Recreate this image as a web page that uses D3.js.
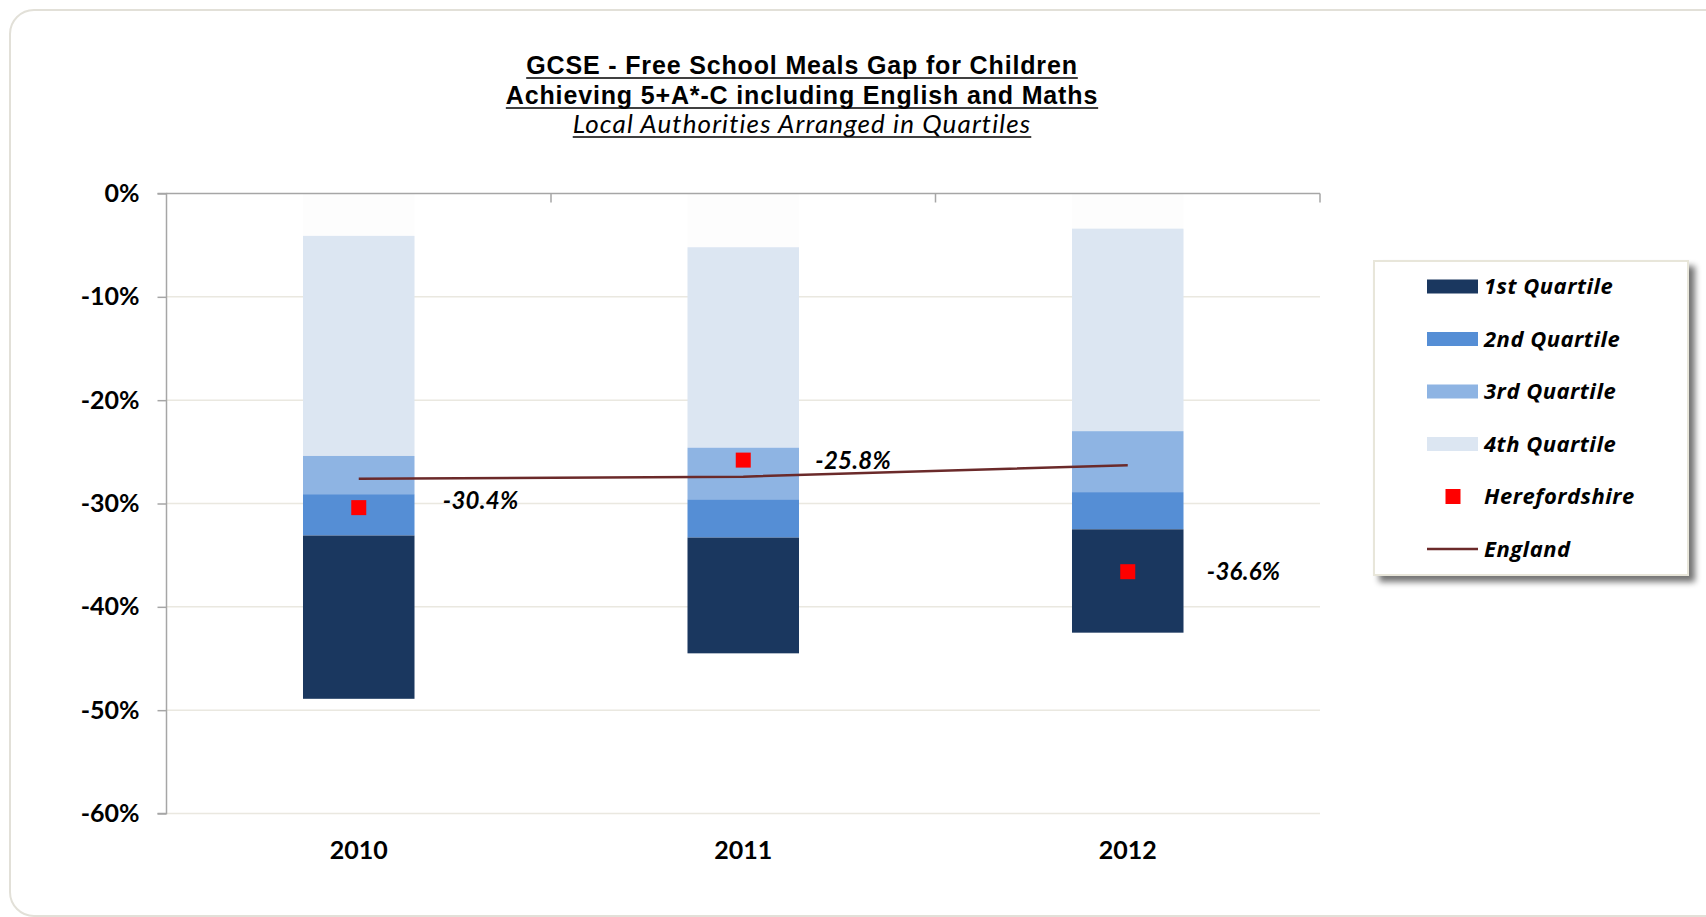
<!DOCTYPE html>
<html>
<head>
<meta charset="utf-8">
<script src="https://cdn.jsdelivr.net/npm/d3@7"></script>
<style>
  html, body { margin: 0; padding: 0; background: #ffffff; }
  svg { display: block; }
</style>
</head>
<body>
<svg id="chart" width="1706" height="917"></svg>
<script>
// ---------------- DATA ----------------
const years = ["2010", "2011", "2012"];
// stacked segment sizes (from 0 downward), in %
const blankSeg    = [-4.1, -5.2, -3.4];
const quartile4   = [-21.3, -19.4, -19.6];
const quartile3   = [-3.7, -5.0, -5.9];
const quartile2   = [-4.0, -3.7, -3.6];
const quartile1   = [-15.8, -11.2, -10.0];
const herefordshire = [-30.4, -25.8, -36.6];
const england       = [-27.6, -27.4, -26.3];
const yTicks = [0, -10, -20, -30, -40, -50, -60];
const legendLabels = ["1st Quartile", "2nd Quartile", "3rd Quartile", "4th Quartile", "Herefordshire", "England"];
const titleLines = ["GCSE - Free School Meals Gap for Children",
                    "Achieving 5+A*-C including English and Maths",
                    "Local Authorities Arranged in Quartiles"];

// ---------------- STYLE ----------------
const colors = {
  blank: "#fdfdfd",
  q4: "#dce6f2",
  q3: "#8eb4e3",
  q2: "#558ed5",
  q1: "#1a375f",
  here: "#ff0000",
  eng: "#6b2a2a"
};
const sansC = "Lato, 'Open Sans', sans-serif";
const sansO = "'Open Sans', Lato, sans-serif";
const sansA = "'Liberation Sans', Arial, sans-serif";

const svg = d3.select("#chart");

// drop shadow for legend
const defs = svg.append("defs");
const f = defs.append("filter").attr("id", "shadow").attr("x", "-10%").attr("y", "-10%").attr("width", "130%").attr("height", "130%");
f.append("feGaussianBlur").attr("in", "SourceAlpha").attr("stdDeviation", 3).attr("result", "b");
f.append("feOffset").attr("in", "b").attr("dx", 6).attr("dy", 6).attr("result", "o");
f.append("feComponentTransfer").attr("in", "o").attr("result", "o2")
  .append("feFuncA").attr("type", "linear").attr("slope", 0.55);
const fm = f.append("feMerge");
fm.append("feMergeNode").attr("in", "o2");
fm.append("feMergeNode").attr("in", "SourceGraphic");

// outer chart frame
svg.append("rect")
  .attr("x", 10).attr("y", 10).attr("width", 1720).attr("height", 906)
  .attr("rx", 24).attr("ry", 24)
  .attr("fill", "#ffffff").attr("stroke", "#e2e0d8").attr("stroke-width", 2);

// ---------------- TITLE ----------------
const titleSpec = [
  { y: 74, font: sansA, weight: "bold", style: "normal", size: 25, ls: 0.85 },
  { y: 104, font: sansA, weight: "bold", style: "normal", size: 25, ls: 0.85 },
  { y: 133, font: sansC, weight: "normal", style: "italic", size: 26, ls: 1.1 }
];
titleLines.forEach((t, i) => {
  const s = titleSpec[i];
  const tx = svg.append("text")
    .attr("x", 802).attr("y", s.y)
    .attr("text-anchor", "middle")
    .attr("font-family", s.font).attr("font-weight", s.weight)
    .attr("font-style", s.style).attr("font-size", s.size)
    .attr("letter-spacing", s.ls)
    .attr("fill", "#000").text(t);
  const bb = tx.node().getBBox();
  svg.append("line")
    .attr("x1", bb.x).attr("x2", bb.x + bb.width)
    .attr("y1", s.y + 4).attr("y2", s.y + 4)
    .attr("stroke", "#000").attr("stroke-width", 1.7);
});

// ---------------- SCALES ----------------
const plot = { left: 166.5, right: 1320, top: 193.5, bottom: 813.5 };
const y = d3.scaleLinear().domain([0, -60]).range([plot.top, plot.bottom]);
const x = d3.scaleBand().domain(years).range([plot.left, plot.right])
  .paddingInner(0.71).paddingOuter(0.355);
const xc = d => x(d) + x.bandwidth() / 2;

// gridlines
svg.append("g").selectAll("line").data(yTicks.filter(v => v !== 0)).join("line")
  .attr("x1", plot.left).attr("x2", plot.right)
  .attr("y1", d => y(d)).attr("y2", d => y(d))
  .attr("stroke", "#eae8e0").attr("stroke-width", 1.5);

// ---------------- BARS ----------------
const keys = ["blank", "q4", "q3", "q2", "q1"];
const table = years.map((yr, i) => ({
  year: yr, blank: blankSeg[i], q4: quartile4[i], q3: quartile3[i], q2: quartile2[i], q1: quartile1[i]
}));
const stacked = d3.stack().keys(keys).offset(d3.stackOffsetDiverging)(table);
svg.append("g").selectAll("g").data(stacked).join("g")
  .attr("fill", d => colors[d.key])
  .selectAll("rect").data(d => d).join("rect")
  .attr("x", d => x(d.data.year))
  .attr("width", x.bandwidth())
  .attr("y", d => Math.min(y(d[0]), y(d[1])))
  .attr("height", d => Math.abs(y(d[1]) - y(d[0])));

// ---------------- AXES ----------------
const yAxis = d3.axisLeft(y).tickValues(yTicks).tickSize(9).tickPadding(18)
  .tickFormat(d => d + "%");
const gy = svg.append("g").attr("transform", `translate(${plot.left},0)`).call(yAxis);
gy.select(".domain").attr("stroke", "#a6a6a6").attr("stroke-width", 1.5).attr("d", `M-9,${plot.top}H0V${plot.bottom}H-9`);
gy.selectAll(".tick line").attr("stroke", "#a6a6a6").attr("stroke-width", 1.5);
gy.selectAll(".tick text").attr("font-family", sansC).attr("font-weight", "bold")
  .attr("font-size", 25).attr("fill", "#000");

// top category axis at 0%
const gx = svg.append("g");
gx.append("line").attr("x1", plot.left).attr("x2", plot.right)
  .attr("y1", y(0)).attr("y2", y(0)).attr("stroke", "#a6a6a6").attr("stroke-width", 1.5);
const boundaryX = years.map(d => xc(d) + x.step() / 2);
gx.selectAll("line.tk").data(boundaryX).join("line").attr("class", "tk")
  .attr("x1", d => d).attr("x2", d => d)
  .attr("y1", y(0)).attr("y2", y(0) + 9)
  .attr("stroke", "#a6a6a6").attr("stroke-width", 1.5);

// category labels at bottom
svg.append("g").selectAll("text").data(years).join("text")
  .attr("x", d => xc(d)).attr("y", 859)
  .attr("text-anchor", "middle")
  .attr("font-family", sansC).attr("font-weight", "bold").attr("font-size", 25)
  .attr("fill", "#000").text(d => d);

// ---------------- ENGLAND LINE ----------------
svg.append("path")
  .datum(england.map((v, i) => [xc(years[i]), y(v)]))
  .attr("d", d3.line())
  .attr("fill", "none").attr("stroke", colors.eng).attr("stroke-width", 2.5);

// ---------------- HEREFORDSHIRE ----------------
const mk = 15;
svg.append("g").selectAll("rect").data(herefordshire).join("rect")
  .attr("x", (d, i) => xc(years[i]) - mk / 2)
  .attr("y", d => y(d) - mk / 2)
  .attr("width", mk).attr("height", mk)
  .attr("fill", colors.here);

const labelNudge = [{ dx: 84, dy: -7 }, { dx: 72, dy: 0 }, { dx: 79, dy: 0 }];
svg.append("g").selectAll("text").data(herefordshire).join("text")
  .attr("x", (d, i) => xc(years[i]) + labelNudge[i].dx)
  .attr("y", (d, i) => y(d) + labelNudge[i].dy)
  .attr("dy", "0.36em")
  .attr("font-family", sansC).attr("font-weight", "bold").attr("font-style", "italic")
  .attr("font-size", 24).attr("letter-spacing", 0.3).attr("fill", "#000")
  .text(d => d.toFixed(1) + "%");

// ---------------- LEGEND ----------------
const lg = svg.append("g");
lg.append("rect").attr("x", 1374).attr("y", 261).attr("width", 314).attr("height", 314)
  .attr("fill", "#ffffff").attr("stroke", "#e8e6da").attr("stroke-width", 2)
  .attr("filter", "url(#shadow)");
const legendColors = [colors.q1, colors.q2, colors.q3, colors.q4];
const rowY = i => 286.5 + i * 52.5;
legendLabels.forEach((lab, i) => {
  const cy = rowY(i);
  if (i < 4) {
    lg.append("rect").attr("x", 1427).attr("y", cy - 7).attr("width", 51).attr("height", 14)
      .attr("fill", legendColors[i]);
  } else if (i === 4) {
    lg.append("rect").attr("x", 1453 - 7.5).attr("y", cy - 7.5).attr("width", 15).attr("height", 15)
      .attr("fill", colors.here);
  } else {
    lg.append("line").attr("x1", 1427).attr("x2", 1478).attr("y1", cy).attr("y2", cy)
      .attr("stroke", colors.eng).attr("stroke-width", 2.5);
  }
  lg.append("text").attr("x", 1484).attr("y", cy).attr("dy", "0.36em")
    .attr("font-family", sansO).attr("font-weight", "bold").attr("font-style", "italic")
    .attr("font-size", 22).attr("letter-spacing", 0.5).attr("fill", "#000").text(lab);
});
</script>
</body>
</html>
